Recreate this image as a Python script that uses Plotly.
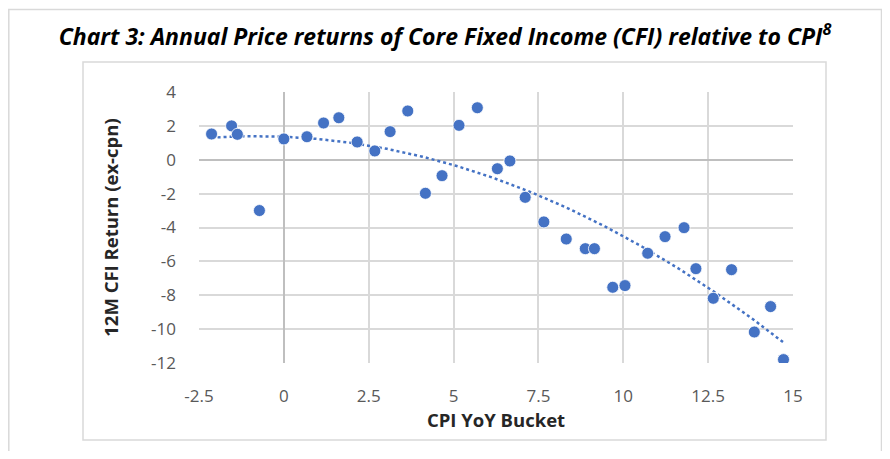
import numpy as np
import plotly.graph_objects as go

# Data
cpi_yoy = [-2.13, -1.54, -1.37, -0.72, 0.00, 0.68, 1.17, 1.62, 2.16, 2.68, 3.13, 3.65,
           4.17, 4.66, 5.16, 5.70, 6.29, 6.66, 7.11, 7.66, 8.32, 8.88, 9.15, 9.69,
           10.05, 10.72, 11.23, 11.79, 12.14, 12.65, 13.19, 13.86, 14.34, 14.72]
cfi_return = [1.52, 2.00, 1.50, -3.00, 1.23, 1.36, 2.17, 2.48, 1.05, 0.52, 1.66, 2.88,
              -1.98, -0.94, 2.03, 3.07, -0.53, -0.07, -2.22, -3.67, -4.68, -5.25, -5.25, -7.53,
              -7.43, -5.52, -4.54, -4.01, -6.43, -8.18, -6.49, -10.17, -8.67, -11.80]
x_ticks = [-2.5, 0, 2.5, 5, 7.5, 10, 12.5, 15]
x_tick_labels = ["-2.5", "0", "2.5", "5", "7.5", "10", "12.5", "15"]
y_ticks = [-12, -10, -8, -6, -4, -2, 0, 2, 4]
y_tick_labels = ["-12", "-10", "-8", "-6", "-4", "-2", "0", "2", "4"]

# Polynomial (order 2) trendline, as in the spreadsheet chart
coef = np.polyfit(cpi_yoy, cfi_return, 2)
tx = np.linspace(min(cpi_yoy), max(cpi_yoy), 200)
ty = np.polyval(coef, tx)

BLUE = "#4472C4"
fig = go.Figure()
fig.add_trace(go.Scatter(x=tx, y=ty, mode="lines",
                         line=dict(color=BLUE, width=2.5, dash="dot"),
                         hoverinfo="skip", showlegend=False))
fig.add_trace(go.Scatter(x=cpi_yoy, y=cfi_return, mode="markers",
                         marker=dict(color=BLUE, size=12, line=dict(color="white", width=0.8)),
                         showlegend=False))

# page is offset by the 8px body margin
OFF = 8
W, H = 890 - 2 * OFF, 459 - 2 * OFF
L, R, T, B = 199 - OFF, 793 - OFF, 92 - OFF, 363 - OFF
pw, ph = R - L, B - T

def px_x(p):
    return (p - OFF - L) / pw

def px_y(p):
    return (B - (p - OFF)) / ph

shapes = [
    dict(type="rect", xref="paper", yref="paper",
         x0=px_x(8.8), x1=px_x(881.5), y0=px_y(9.5), y1=px_y(480),
         line=dict(color="#d9d9d9", width=1.5), fillcolor="rgba(0,0,0,0)", layer="below"),
    dict(type="rect", xref="paper", yref="paper",
         x0=px_x(83), x1=px_x(826), y0=px_y(62), y1=px_y(440),
         line=dict(color="#d9d9d9", width=1.5), fillcolor="rgba(0,0,0,0)", layer="below"),
]

fig.update_layout(
    width=W, height=H,
    margin=dict(l=L, r=W - R, t=T, b=H - B),
    paper_bgcolor="white", plot_bgcolor="white",
    shapes=shapes,
    title=dict(text="<b><i>Chart 3: Annual Price returns of Core Fixed Income (CFI) relative to CPI<sup>8</sup></i></b>",
               x=0.5, xanchor="center", y=1 - (37 - OFF) / H, yanchor="middle",
               font=dict(family="Open Sans, sans-serif", size=23, color="black")),
    font=dict(family="Open Sans, sans-serif"),
)
fig.update_xaxes(range=[-2.5, 15], tickvals=x_ticks, ticktext=x_tick_labels,
                 showgrid=True, gridcolor="#d9d9d9", gridwidth=1.5,
                 zeroline=True, zerolinecolor="#bfbfbf", zerolinewidth=2,
                 showline=False, ticks="", ticklabelstandoff=21,
                 tickfont=dict(size=17, color="#595959"),
                 title=dict(text="<b>CPI YoY Bucket</b>", standoff=4,
                            font=dict(size=18.5, color="#262626")))
fig.update_yaxes(range=[-12, 4], tickvals=y_ticks, ticktext=y_tick_labels,
                 showgrid=True, gridcolor="#d9d9d9", gridwidth=1.5,
                 zeroline=True, zerolinecolor="#bfbfbf", zerolinewidth=2,
                 showline=False, ticks="", ticklabelstandoff=22,
                 tickfont=dict(size=17, color="#595959"),
                 title=dict(text="<b>12M CFI Return (ex-cpn)</b>", standoff=27,
                            font=dict(size=18.5, color="#262626")))

fig.write_html("out.html")
